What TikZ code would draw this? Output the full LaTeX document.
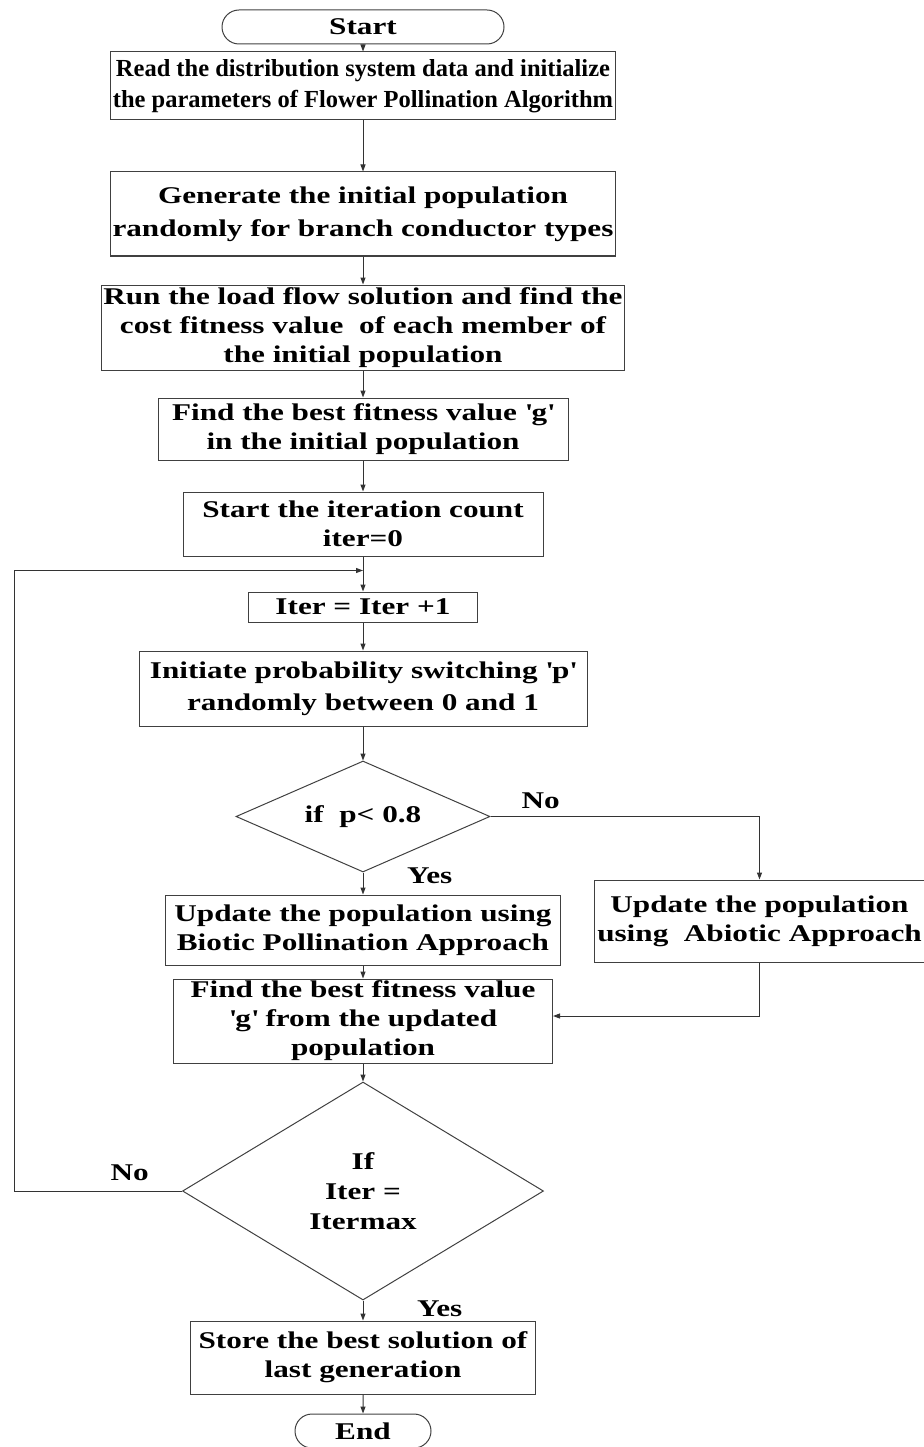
\documentclass[tikz,border=0pt]{standalone}
\usepackage{fontspec}
\setmainfont[FakeStretch=1.3]{Liberation Serif}
\newfontfamily\plainserif{Liberation Serif}
\usepackage{tikz}
\usetikzlibrary{shapes.geometric, shapes.misc, arrows.meta, positioning}

\begin{document}
\begin{tikzpicture}[
    font=\bfseries\fontsize{24}{29}\selectfont,
    process/.style={rectangle, draw=black!75, line width=1pt, align=center, inner sep=2pt},
    terminal/.style={rounded rectangle, draw=black!75, line width=1pt, minimum height=34pt, inner sep=2pt},
    decision/.style={diamond, draw=black!75, line width=1pt, align=center, inner sep=0pt},
    arrow/.style={-{Triangle[length=7pt, width=5pt]}, line width=1pt, black!80},
    lbl/.style={inner sep=0pt}
]

\useasboundingbox (0,0) rectangle (923pt,-1447pt);

% Main column
\node[terminal, minimum width=286pt] (start) at (363pt,-27pt) {Start};
\node[process, below=7pt of start, minimum width=498pt, minimum height=68pt, font=\plainserif\bfseries\fontsize{24.5}{31}\selectfont] (read) {Read the distribution system data and initialize\\the parameters of Flower Pollination Algorithm};
\node[process, below=51pt of read, minimum width=476pt, minimum height=84pt, font=\bfseries\fontsize{24}{33}\selectfont] (gen) {Generate the initial population\\randomly for branch conductor types};
\node[process, below=28pt of gen, minimum width=506pt, minimum height=85pt] (run) {Run the load flow solution and find the\\cost fitness value\ \ of each member of\\the initial population};
\node[process, below=27pt of run, minimum width=410pt, minimum height=62pt] (best) {Find the best fitness value \textquotesingle g\textquotesingle\\in the initial population};
\node[process, below=31pt of best, minimum width=360pt, minimum height=64pt] (count) {Start the iteration count\\iter=0};
\node[process, below=35pt of count, minimum width=229pt, minimum height=30pt] (incr) {Iter = Iter +1};
\node[process, below=28pt of incr, minimum width=448pt, minimum height=75pt, font=\bfseries\fontsize{24}{32}\selectfont] (switch) {Initiate probability switching \textquotesingle p\textquotesingle\\randomly between 0 and 1};

% First decision
\node[decision, below=34pt of switch, minimum width=254pt, minimum height=111pt, aspect=2.3] (dec1) {if\ \ p< 0.8};
\node[process, below=22pt of dec1, minimum width=395pt, minimum height=70pt] (biotic) {Update the population using\\Biotic Pollination Approach};
\node[process, right=33pt of biotic, yshift=9pt, minimum width=330pt, minimum height=82pt] (abiotic) {Update the population\\using\ \ Abiotic Approach};
\node[process, below=13pt of biotic, minimum width=379pt, minimum height=84pt] (updated) {Find the best fitness value\\\textquotesingle g\textquotesingle\ from the updated\\population};

% Second decision
\node[decision, below=18pt of updated, minimum width=361pt, minimum height=218pt, aspect=1.65, font=\bfseries\fontsize{24}{30}\selectfont] (dec2) {If\\Iter =\\Itermax};
\node[process, below=20pt of dec2, minimum width=345pt, minimum height=73pt] (store) {Store the best solution of\\last generation};
\node[terminal, below=19pt of store, minimum width=140pt] (end) {End};

% Branch labels
\node[lbl, above right=8pt and 31pt of dec1.east] (no1) {No};
\node[lbl, right=44pt of dec1.south, yshift=-3pt] (yes1) {Yes};
\node[lbl, above left=10pt and 33pt of dec2.west] (no2) {No};
\node[lbl, right=54pt of dec2.south, yshift=-8pt] (yes2) {Yes};

\coordinate[below=14pt of count] (loopin);

% Arrows
\draw[arrow] (start) -- (read);
\draw[arrow] (read) -- (gen);
\draw[arrow] (gen) -- (run);
\draw[arrow] (run) -- (best);
\draw[arrow] (best) -- (count);
\draw[arrow] (count) -- (incr);
\draw[arrow] (incr) -- (switch);
\draw[arrow] (switch) -- (dec1);
\draw[arrow] (dec1) -- (biotic);
\draw[arrow] (dec1.east) -| (abiotic.north);
\draw[arrow] (biotic) -- (updated);
\draw[arrow] (abiotic.south) |- ([yshift=5pt]updated.east);
\draw[arrow] (updated) -- (dec2);
\draw[arrow] (dec2.west) -- ++(-168pt,0) |- (loopin);
\draw[arrow] (dec2) -- (store);
\draw[arrow] (store) -- (end);

\end{tikzpicture}
\end{document}
